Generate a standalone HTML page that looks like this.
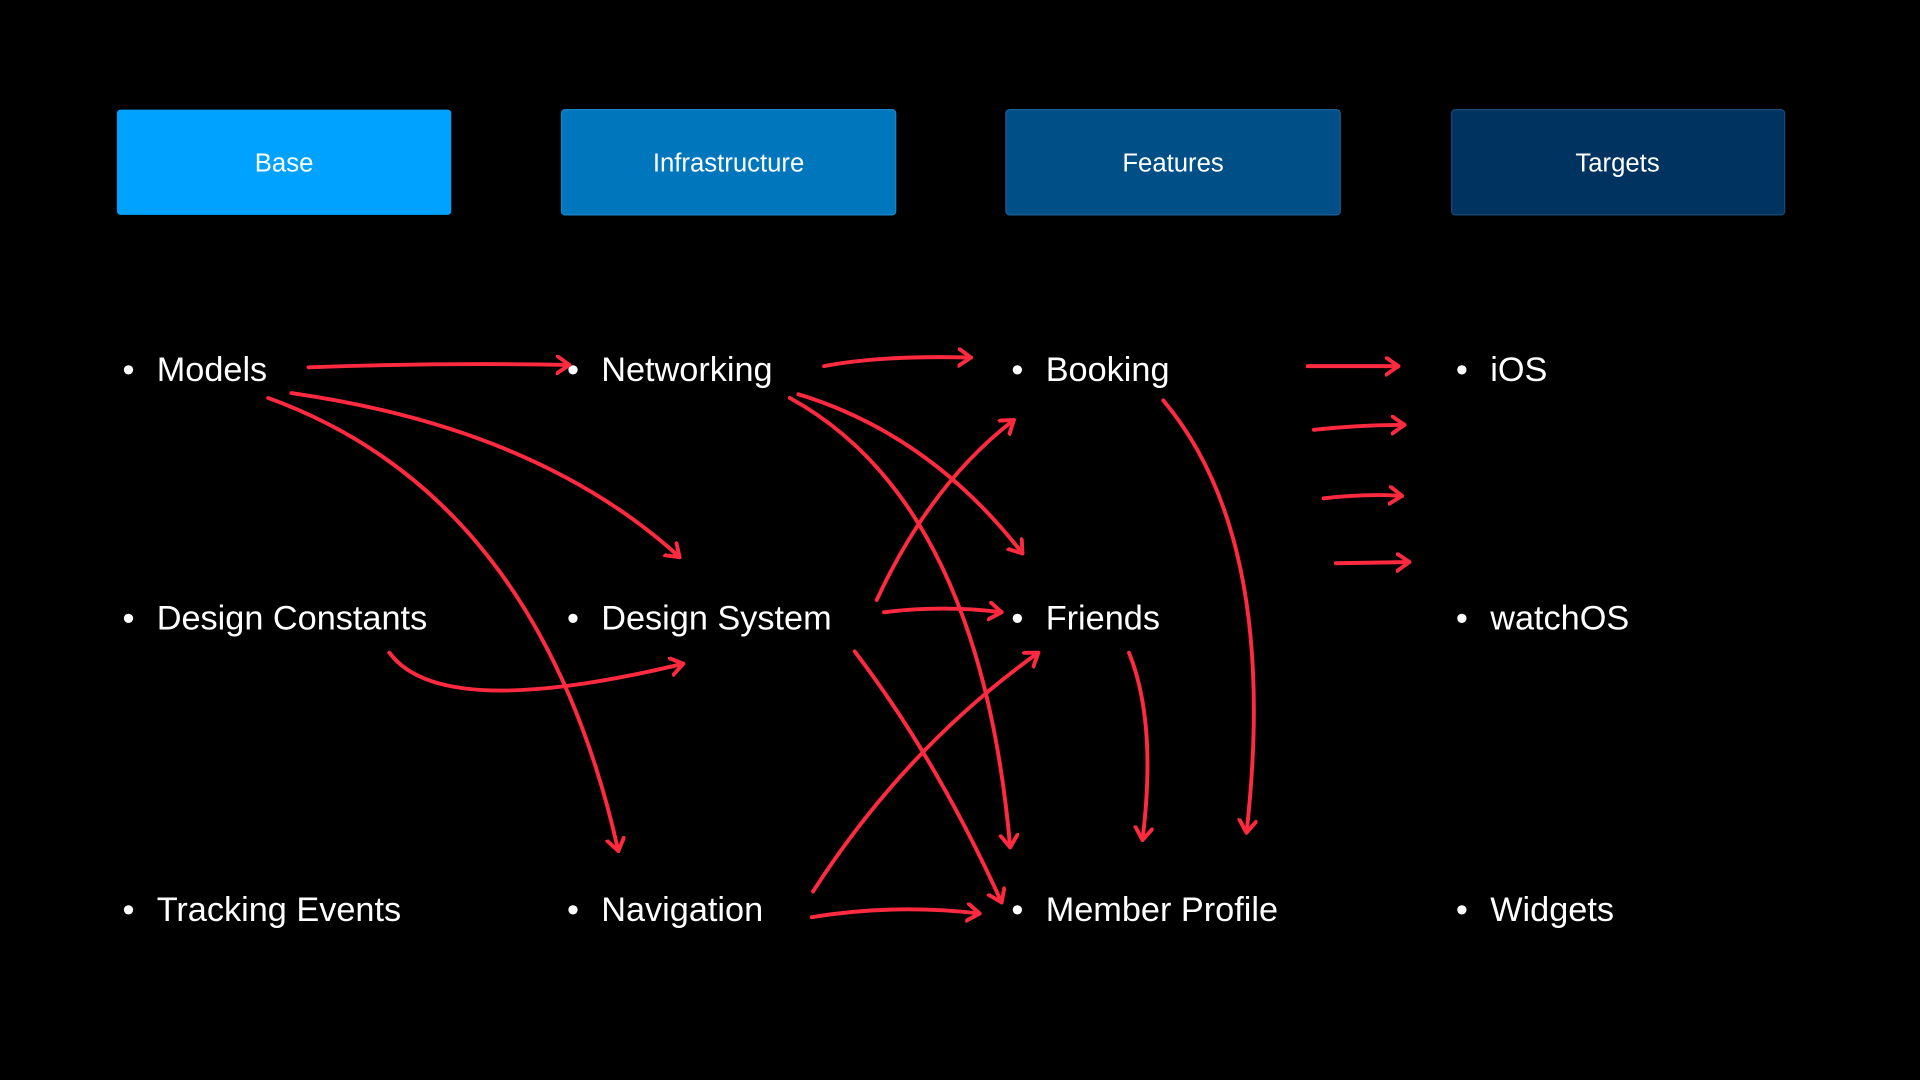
<!DOCTYPE html>
<html><head><meta charset="utf-8"><style>
html,body{margin:0;padding:0;background:#000;width:1920px;height:1080px;overflow:hidden}
svg{display:block}
text{font-family:"Liberation Sans",Helvetica,Arial,sans-serif;fill:#fff}
</style></head><body>
<svg width="1920" height="1080" viewBox="0 0 1568 882" xmlns="http://www.w3.org/2000/svg">
<defs>
<marker id="a" markerUnits="userSpaceOnUse" markerWidth="24" markerHeight="24" refX="11" refY="8" orient="auto" viewBox="0 0 24 24">
<path d="M1,1 L11,8 L1,15" fill="none" stroke="#ff2a3f" stroke-width="3.2" stroke-linecap="round" stroke-linejoin="round"/>
</marker>
</defs>
<rect x="95.5" y="89.5" width="273" height="86" rx="3" fill="#00a2ff"/>
<rect x="458.5" y="89.5" width="273" height="86" rx="3" fill="#0077bd" stroke="#1a86c8"/>
<rect x="821.5" y="89.5" width="273" height="86" rx="3" fill="#004f86" stroke="#1a6196"/>
<rect x="1185.5" y="89.5" width="272" height="86" rx="3" fill="#00335f" stroke="#1a4a75"/>
<g font-size="21" text-anchor="middle">
<text x="232" y="140">Base</text>
<text x="595" y="140">Infrastructure</text>
<text x="958" y="140">Features</text>
<text x="1321" y="140">Targets</text>
</g>
<g font-size="28">
<text x="100" y="311">•</text><text x="128" y="311">Models</text>
<text x="463" y="311">•</text><text x="491" y="311">Networking</text>
<text x="826" y="311">•</text><text x="854" y="311">Booking</text>
<text x="1189" y="311">•</text><text x="1217" y="311">iOS</text>
<text x="100" y="514">•</text><text x="128" y="514">Design Constants</text>
<text x="463" y="514">•</text><text x="491" y="514">Design System</text>
<text x="826" y="514">•</text><text x="854" y="514">Friends</text>
<text x="1189" y="514">•</text><text x="1217" y="514">watchOS</text>
<text x="100" y="752">•</text><text x="128" y="752">Tracking Events</text>
<text x="463" y="752">•</text><text x="491" y="752">Navigation</text>
<text x="826" y="752">•</text><text x="854" y="752">Member Profile</text>
<text x="1189" y="752">•</text><text x="1217" y="752">Widgets</text>
</g>
<g fill="none" stroke="#ff2a3f" stroke-width="3.2" stroke-linecap="round" marker-end="url(#a)">
<path d="M252 300 Q360 296 465 298"/>
<path d="M238 321 Q440 350 555 455"/>
<path d="M219 325 Q440 405 505 695"/>
<path d="M318 533 Q360 590 558 542"/>
<path d="M673 299 Q720 290 793 292"/>
<path d="M652 322 Q760 355 835 452"/>
<path d="M645 325 Q800 410 825 692"/>
<path d="M716 490 Q760 395 828 343"/>
<path d="M722 500 Q770 494 818 500"/>
<path d="M698 532 Q765 620 818 737"/>
<path d="M664 728 Q740 610 848 533"/>
<path d="M663 749 Q730 738 800 746"/>
<path d="M922 533 Q945 590 933 686"/>
<path d="M950 327 Q1045 440 1018 680"/>
<path d="M1068 299 L1142 299"/>
<path d="M1073 351 Q1110 347 1147 347"/>
<path d="M1081 407 Q1115 403 1145 405"/>
<path d="M1091 460 L1151 459"/>
</g>
</svg>
</body></html>
